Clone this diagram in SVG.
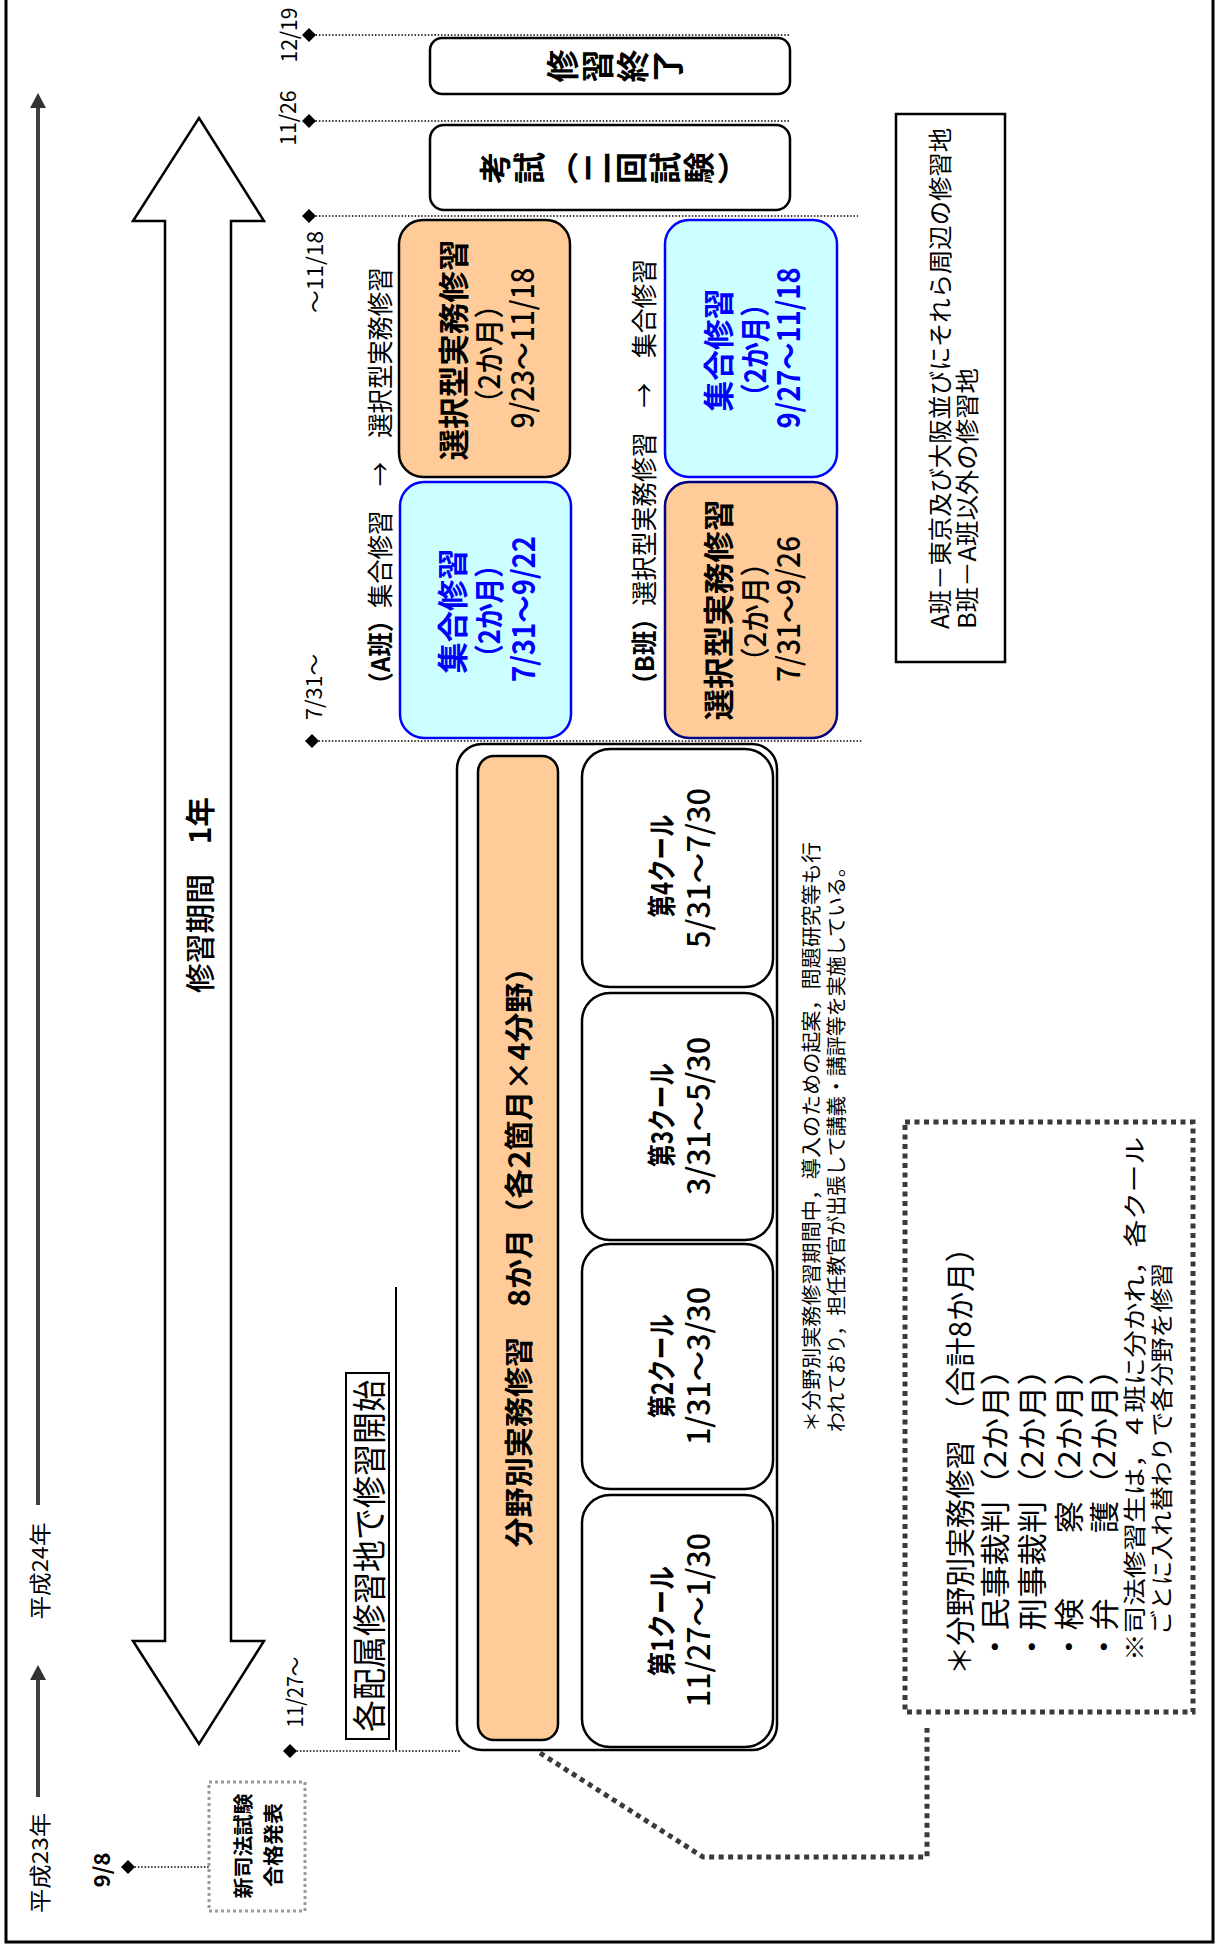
<svg xmlns="http://www.w3.org/2000/svg" xmlns:xlink="http://www.w3.org/1999/xlink" width="1223" height="1950" viewBox="0 0 1223 1950">
<defs>
<style>
text{font-family:"Noto Sans CJK JP","Noto Sans",sans-serif;dominant-baseline:central;text-anchor:middle;fill:#000}
.b{font-weight:700}
.m{font-weight:500}
.s{text-anchor:start}
.blue{fill:#0000FF}
.dot{stroke:#000;stroke-width:1.3;stroke-dasharray:1.5 1.8;fill:none}
.sq{stroke:#3a3a3a;stroke-width:5;stroke-dasharray:5 4.5;fill:none}
.gdot{stroke:#999;stroke-width:3;stroke-dasharray:3 3;fill:#fff}
.box{stroke:#000;stroke-width:2.5;fill:#fff}
.peach{fill:#FFCC99}
.cyan{fill:#CCFFFF;stroke:#0000FF;stroke-width:2.5}
</style>
<path id="dia" d="M0,-7 L7,0 L0,7 L-7,0Z" fill="#000"/>
</defs>
<rect x="0" y="0" width="1223" height="1950" fill="#fff"/>
<rect x="6" y="-10" width="1207" height="1952" fill="none" stroke="#000" stroke-width="3"/>

<g id="year-axis">
<line x1="38" y1="1505" x2="38" y2="106" stroke="#404040" stroke-width="4"/>
<path d="M38,93 L46,108 L30,108Z" fill="#333"/>
<line x1="38" y1="1797" x2="38" y2="1678" stroke="#404040" stroke-width="4"/>
<path d="M38,1665 L46,1680 L30,1680Z" fill="#333"/>
<text font-size="22" transform="translate(38,1571) rotate(-90)" textLength="97" lengthAdjust="spacingAndGlyphs">平成24年</text>
<text font-size="22" transform="translate(38,1863) rotate(-90)" textLength="100" lengthAdjust="spacingAndGlyphs">平成23年</text>
</g>

<g id="period-arrow">
<polygon points="199,118 264,221 231,221 231,1641 264,1641 199,1744 133,1641 165,1641 165,221 133,221" fill="#fff" stroke="#000" stroke-width="2.5"/>
<text class="m" font-size="30" transform="translate(198,895) rotate(-90)" textLength="196" lengthAdjust="spacingAndGlyphs">修習期間　<tspan class="b">1年</tspan></text>
</g>

<g id="connectors">
<line class="dot" x1="309" y1="35" x2="790" y2="35"/>
<line class="dot" x1="309" y1="121" x2="790" y2="121"/>
<line class="dot" x1="309" y1="216" x2="858" y2="216"/>
<line class="dot" x1="312" y1="741" x2="862" y2="741"/>
<line class="dot" x1="290" y1="1751" x2="460" y2="1751"/>
<line class="dot" x1="128" y1="1867" x2="209" y2="1867"/>
<use xlink:href="#dia" x="309" y="35"/>
<use xlink:href="#dia" x="309" y="121"/>
<use xlink:href="#dia" x="309" y="216"/>
<use xlink:href="#dia" x="312" y="741"/>
<use xlink:href="#dia" x="290" y="1751"/>
<use xlink:href="#dia" x="128" y="1867"/>
<path class="sq" d="M540,1753 L703,1857 L927,1857 L927,1728"/>
<line x1="396" y1="1287" x2="396" y2="1750" stroke="#000" stroke-width="2"/>
</g>

<g id="date-labels">
<text font-size="22" transform="translate(287,35) rotate(-90)" textLength="55" lengthAdjust="spacingAndGlyphs">12/19</text>
<text font-size="22" transform="translate(286,118) rotate(-90)" textLength="55" lengthAdjust="spacingAndGlyphs">11/26</text>
<text font-size="22" transform="translate(313,272) rotate(-90)" textLength="82" lengthAdjust="spacingAndGlyphs">〜11/18</text>
<text font-size="22" transform="translate(312,687) rotate(-90)" textLength="66" lengthAdjust="spacingAndGlyphs">7/31〜</text>
<text font-size="22" transform="translate(293,1692) rotate(-90)" textLength="71" lengthAdjust="spacingAndGlyphs">11/27〜</text>
<text class="b" font-size="22" transform="translate(100,1870) rotate(-90)" textLength="35" lengthAdjust="spacingAndGlyphs">9/8</text>
</g>

<g id="node-gokaku">
<rect class="gdot" x="209" y="1782" width="96" height="129"/>
<text class="b" font-size="20" transform="translate(242,1846) rotate(-90)" textLength="105" lengthAdjust="spacingAndGlyphs">新司法試験</text>
<text class="b" font-size="20" transform="translate(272,1845) rotate(-90)" textLength="84" lengthAdjust="spacingAndGlyphs">合格発表</text>
</g>

<g id="node-start">
<rect x="346" y="1373" width="43" height="366" fill="#fff" stroke="#000" stroke-width="2"/>
<text font-size="34" transform="translate(367,1556) rotate(-90)" textLength="352" lengthAdjust="spacingAndGlyphs">各配属修習地で修習開始</text>
</g>

<g id="node-bunya">
<rect class="box" x="457" y="744" width="320" height="1006" rx="25"/>
<rect class="peach" x="478" y="756" width="80" height="984" rx="16" stroke="#000" stroke-width="2.5"/>
<text class="b" font-size="29" transform="translate(517,1250) rotate(-90)" textLength="595" lengthAdjust="spacingAndGlyphs">分野別実務修習　8か月（各2箇月×4分野）</text>
</g>

<g id="node-cool4">
<rect class="box" x="582" y="749" width="191" height="238" rx="28"/>
<text class="b" font-size="29" transform="translate(660,866) rotate(-90)" textLength="103" lengthAdjust="spacingAndGlyphs">第4クール</text>
<text class="m" font-size="31" transform="translate(696,868) rotate(-90)" textLength="160" lengthAdjust="spacingAndGlyphs">5/31〜7/30</text>
</g>
<g id="node-cool3">
<rect class="box" x="582" y="993" width="191" height="247" rx="28"/>
<text class="b" font-size="29" transform="translate(660,1115) rotate(-90)" textLength="104" lengthAdjust="spacingAndGlyphs">第3クール</text>
<text class="m" font-size="31" transform="translate(696,1116) rotate(-90)" textLength="158" lengthAdjust="spacingAndGlyphs">3/31〜5/30</text>
</g>
<g id="node-cool2">
<rect class="box" x="582" y="1244" width="191" height="245" rx="28"/>
<text class="b" font-size="29" transform="translate(660,1366) rotate(-90)" textLength="104" lengthAdjust="spacingAndGlyphs">第2クール</text>
<text class="m" font-size="31" transform="translate(696,1366) rotate(-90)" textLength="158" lengthAdjust="spacingAndGlyphs">1/31〜3/30</text>
</g>
<g id="node-cool1">
<rect class="box" x="582" y="1495" width="191" height="252" rx="28"/>
<text class="b" font-size="29" transform="translate(660,1621) rotate(-90)" textLength="110" lengthAdjust="spacingAndGlyphs">第1クール</text>
<text class="m" font-size="31" transform="translate(696,1620) rotate(-90)" textLength="174" lengthAdjust="spacingAndGlyphs">11/27〜1/30</text>
</g>

<g id="note-bunya">
<text class="s" font-size="20" transform="translate(810,1432) rotate(-90)" textLength="590" lengthAdjust="spacingAndGlyphs">＊分野別実務修習期間中，導入のための起案，問題研究等も行</text>
<text class="s" font-size="20" transform="translate(835,1432) rotate(-90)" textLength="575" lengthAdjust="spacingAndGlyphs">われており，担任教官が出張して講義・講評等を実施している。</text>
</g>

<g id="label-A">
<text font-size="26" transform="translate(378,482) rotate(-90)" textLength="429" lengthAdjust="spacingAndGlyphs"><tspan class="b">（A班）</tspan>集合修習　→　選択型実務修習</text>
</g>
<g id="label-B">
<text font-size="26" transform="translate(642,478) rotate(-90)" textLength="438" lengthAdjust="spacingAndGlyphs"><tspan class="b">（B班）</tspan>選択型実務修習　→　集合修習</text>
</g>

<g id="node-A-shugo">
<rect class="cyan" x="400" y="482" width="171" height="256" rx="24"/>
<text class="b blue" font-size="31" transform="translate(450,611) rotate(-90)" textLength="125" lengthAdjust="spacingAndGlyphs">集合修習</text>
<text class="b blue" font-size="30" transform="translate(487,611) rotate(-90)" textLength="118" lengthAdjust="spacingAndGlyphs">（2か月）</text>
<text class="b blue" font-size="31" transform="translate(521,609) rotate(-90)" textLength="146" lengthAdjust="spacingAndGlyphs">7/31〜9/22</text>
</g>
<g id="node-A-sentaku">
<rect class="peach" x="399" y="220" width="171" height="257" rx="24" stroke="#000" stroke-width="2.5"/>
<text class="b" font-size="31" transform="translate(451,350) rotate(-90)" textLength="221" lengthAdjust="spacingAndGlyphs">選択型実務修習</text>
<text class="m" font-size="30" transform="translate(487,354) rotate(-90)" textLength="126" lengthAdjust="spacingAndGlyphs">（2か月）</text>
<text class="m" font-size="31" transform="translate(520,348) rotate(-90)" textLength="161" lengthAdjust="spacingAndGlyphs">9/23〜11/18</text>
</g>
<g id="node-B-sentaku">
<rect class="peach" x="665" y="482" width="172" height="256" rx="24" stroke="#000080" stroke-width="2.5"/>
<text class="b" font-size="31" transform="translate(716,610) rotate(-90)" textLength="221" lengthAdjust="spacingAndGlyphs">選択型実務修習</text>
<text class="m" font-size="30" transform="translate(753,612) rotate(-90)" textLength="126" lengthAdjust="spacingAndGlyphs">（2か月）</text>
<text class="m" font-size="31" transform="translate(786,609) rotate(-90)" textLength="146" lengthAdjust="spacingAndGlyphs">7/31〜9/26</text>
</g>
<g id="node-B-shugo">
<rect class="cyan" x="665" y="220" width="172" height="257" rx="24"/>
<text class="b blue" font-size="31" transform="translate(716,350) rotate(-90)" textLength="123" lengthAdjust="spacingAndGlyphs">集合修習</text>
<text class="b blue" font-size="30" transform="translate(753,350) rotate(-90)" textLength="118" lengthAdjust="spacingAndGlyphs">（2か月）</text>
<text class="b blue" font-size="31" transform="translate(786,348) rotate(-90)" textLength="161" lengthAdjust="spacingAndGlyphs">9/27〜11/18</text>
</g>

<g id="node-koshi">
<rect class="box" x="430" y="125" width="360" height="85" rx="14"/>
<text class="b" font-size="32" transform="translate(493,168) rotate(-90)">考</text>
<text class="b" font-size="32" transform="translate(527,168) rotate(-90)">試</text>
<text class="b" font-size="32" transform="translate(561,168) rotate(-90)">︵</text>
<text class="b" font-size="32" transform="translate(595,168) rotate(-90)">二</text>
<text class="b" font-size="32" transform="translate(629,168) rotate(-90)">回</text>
<text class="b" font-size="32" transform="translate(663,168) rotate(-90)">試</text>
<text class="b" font-size="32" transform="translate(697,168) rotate(-90)">験</text>
<text class="b" font-size="32" transform="translate(731,168) rotate(-90)">︶</text>
</g>
<g id="node-shuryo">
<rect class="box" x="430" y="38" width="360" height="56" rx="12"/>
<text class="b" font-size="33" transform="translate(561,66) rotate(-90)">修</text>
<text class="b" font-size="33" transform="translate(596,66) rotate(-90)">習</text>
<text class="b" font-size="33" transform="translate(631,66) rotate(-90)">終</text>
<text class="b" font-size="33" transform="translate(666,66) rotate(-90)">了</text>
</g>

<g id="legend">
<rect x="896" y="114" width="109" height="548" fill="#fff" stroke="#000" stroke-width="2.5"/>
<text class="s" font-size="24" transform="translate(938,629) rotate(-90)" textLength="501" lengthAdjust="spacingAndGlyphs">A班－東京及び大阪並びにそれら周辺の修習地</text>
<text class="s" font-size="24" transform="translate(965,629) rotate(-90)" textLength="261" lengthAdjust="spacingAndGlyphs">B班－A班以外の修習地</text>
</g>

<g id="note-box">
<rect class="sq" x="905" y="1122" width="288" height="590"/>
<text class="s" font-size="30" transform="translate(958,1675) rotate(-90)" textLength="442" lengthAdjust="spacingAndGlyphs">＊分野別実務修習　（合計8か月）</text>
<text class="s" font-size="30" transform="translate(993,1663) rotate(-90)" textLength="310" lengthAdjust="spacingAndGlyphs">・民事裁判（2か月）</text>
<text class="s" font-size="30" transform="translate(1030,1663) rotate(-90)" textLength="310" lengthAdjust="spacingAndGlyphs">・刑事裁判（2か月）</text>
<text class="s" font-size="30" transform="translate(1067,1663) rotate(-90)" textLength="310" lengthAdjust="spacingAndGlyphs">・検　　察（2か月）</text>
<text class="s" font-size="30" transform="translate(1102,1663) rotate(-90)" textLength="310" lengthAdjust="spacingAndGlyphs">・弁　　護（2か月）</text>
<text class="s" font-size="23" transform="translate(1133,1661) rotate(-90)" textLength="524" lengthAdjust="spacingAndGlyphs">※司法修習生は，４班に分かれ，各クール</text>
<text class="s" font-size="23" transform="translate(1160,1635) rotate(-90)" textLength="372" lengthAdjust="spacingAndGlyphs">ごとに入れ替わりで各分野を修習</text>
</g>
</svg>
